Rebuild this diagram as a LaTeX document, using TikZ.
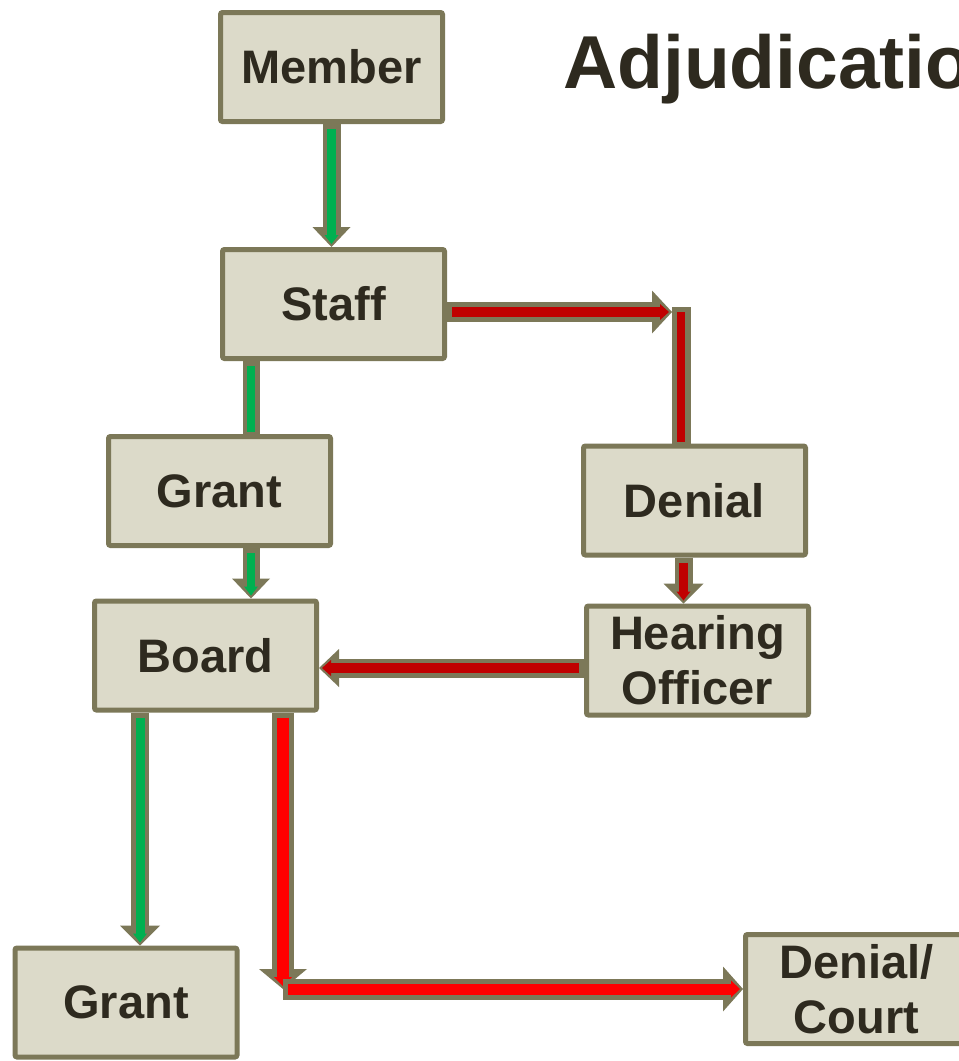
\documentclass[tikz,border=0pt]{standalone}
\usepackage{fontspec}
\setmainfont{Liberation Sans}
\usetikzlibrary{arrows.meta,calc}
\definecolor{bord}{HTML}{7C7858}
\definecolor{boxfill}{HTML}{DCDAC9}
\definecolor{txt}{HTML}{2E2A1F}
\definecolor{grn}{HTML}{00B050}
\definecolor{dred}{HTML}{C00000}
\definecolor{bred}{HTML}{FF0000}
\newcommand\flowarrow[6]{%
  \draw[bord,line width=#2,#4] #6;
  \draw[#1,line width=#3,shorten <=5pt,#5] #6;}
\tikzset{
  box/.style={draw=bord, fill=boxfill, line width=5pt, rounded corners=2pt,
    minimum width=222pt, minimum height=109pt, inner sep=0pt, text=txt,
    font=\fontsize{47}{55}\selectfont\bfseries, align=center},
  headbig/.style={-{Triangle[width=#1,length=20pt,line width=0pt]}},
  headsmall/.style={-{Triangle[width=#1,length=9pt,line width=0pt]},shorten >=3pt},
  nohead/.style={shorten >=2pt}
}
\begin{document}
\begin{tikzpicture}[x=1pt,y=-1pt]
\useasboundingbox (0,0) rectangle (959,1061);
\clip (0,0) rectangle (959,1061);
\fill[white] (0,0) rectangle (959,1061);

\node[anchor=base west, inner sep=0pt, text=txt,
  font=\fontsize{75}{80}\selectfont\bfseries] (title) at (563,88) {Adjudication};

\node[box] (member)  at (331.5,67)    {Member};
\node[box] (staff)   at (333.5,304)   {Staff};
\node[box] (grantA)  at (219.5,491)   {Grant};
\node[box] (board)   at (205.5,655.5) {Board};
\node[box] (denial)  at (694.5,500.5) {Denial};
\node[box] (hearing) at (697.5,660.5) {Hearing\\Officer};
\node[box] (grantB)  at (126,1002.5)  {Grant};
\node[box] (dc)      at (856.5,989)   {Denial/\\Court};

\coordinate (sd) at (672,312);
\coordinate (dtop) at (681,307);
\coordinate (ga) at ($(grantA.north)+(31.5,0)$);
\coordinate (dh) at ($(denial.south)+(-11,0)$);
\coordinate (hb) at ($(hearing.west)+(0,7.5)$);
\coordinate (bg) at ($(board.south)+(-65.5,0)$);
\coordinate (bend) at (283,989);

% green flows
\flowarrow{grn}{18pt}{9pt}{headbig=38pt}{headsmall=14pt}{(member.south) -- (member.south |- staff.north)}
\flowarrow{grn}{17pt}{8pt}{}{nohead}{(staff.south -| ga) -- (ga)}
\flowarrow{grn}{17pt}{8pt}{headbig=38pt}{headsmall=14pt}{(grantA.south -| ga) -- (board.north -| ga)}
\flowarrow{grn}{18pt}{9pt}{headbig=40pt}{headsmall=14pt}{(bg) -- (bg |- grantB.north)}

% dark red flows
\flowarrow{dred}{20pt}{10pt}{headbig=43pt}{headsmall=16pt}{(staff.east |- sd) -- (sd)}
\flowarrow{dred}{19pt}{8pt}{}{nohead}{(dtop) -- (dtop |- denial.north)}
\flowarrow{dred}{18pt}{9pt}{headbig=40pt}{headsmall=14pt}{(dh) -- (dh |- hearing.north)}
\flowarrow{dred}{19pt}{10pt}{headbig=38pt}{headsmall=16pt}{(hb) -- (board.east |- hb)}

% bright red flows
\flowarrow{bred}{22pt}{12pt}{headbig=48pt}{headsmall=18pt}{(board.south -| bend) -- (bend)}
\flowarrow{bred}{21pt}{11pt}{headbig=45pt}{headsmall=17pt}{(bend) -- (dc.west)}
\end{tikzpicture}
\end{document}
